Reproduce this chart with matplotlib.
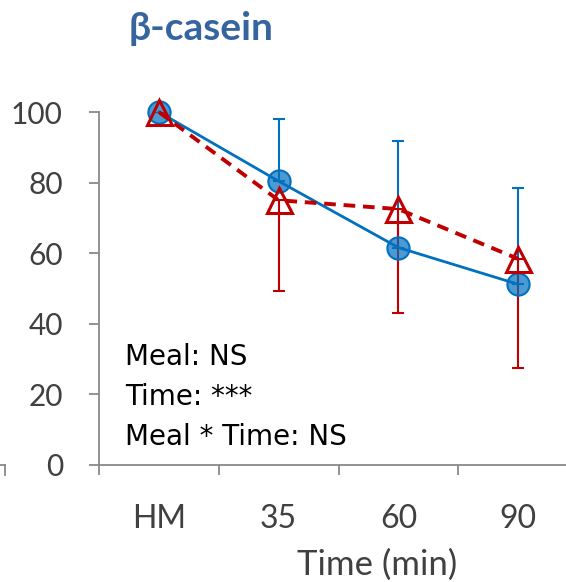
import matplotlib
matplotlib.use("Agg")
import matplotlib.pyplot as plt
from matplotlib.lines import Line2D
import numpy as np

# data
times = ["HM", "35", "60", "90"]
hm_meal = [100, 80.4, 61.6, 51.2]      # blue circles, solid
hm_err_up = [0, 17.6, 30.3, 27.4]
other_meal = [100, 75.0, 72.5, 58.4]   # red triangles, dashed
other_err_dn = [0, 25.7, 29.4, 30.8]
stats_lines = ["Meal: NS", "Time: ***", "Meal * Time: NS"]

blue = "#0070C0"
red = "#C00000"
grey = "#898989"
txt = "#404040"
fam = ["Lato", "DejaVu Sans"]

fig = plt.figure(figsize=(5.66, 5.82), dpi=100)
ax = fig.add_axes([99/566, 117/582, 479/566, 353/582])

x = np.arange(len(times))

# error bars (one-sided)
ax.errorbar(x, hm_meal, yerr=[np.zeros(4), hm_err_up], fmt="none",
            ecolor=blue, elinewidth=1.5, capsize=4.5, capthick=1.5, zorder=2)
ax.errorbar(x, other_meal, yerr=[other_err_dn, np.zeros(4)], fmt="none",
            ecolor=red, elinewidth=1.5, capsize=4.5, capthick=1.5, zorder=2)

ax.plot(x, hm_meal, color=blue, lw=2, marker="o", ms=16,
        mfc=(0, 0.44, 0.75, 0.7), mec=blue, mew=1.5, zorder=3, clip_on=False)
ax.plot(x, other_meal, color=red, lw=2.8, ls=(0, (3, 2)), marker="^", ms=18,
        mfc="none", mec=red, mew=2.2, zorder=4, clip_on=False)

ax.set_xlim(-0.5, 3.5)
ax.set_ylim(0, 100)
ax.set_yticks([0, 20, 40, 60, 80, 100])
ax.set_xticks(x)
ax.set_xticklabels(times)
ax.set_xticks(np.arange(-0.5, 4.0, 1.0), minor=True)

for s in ["top", "right"]:
    ax.spines[s].set_visible(False)
for s in ["left", "bottom"]:
    ax.spines[s].set_color(grey)
    ax.spines[s].set_linewidth(1.3)

ax.tick_params(axis="y", length=7, width=1.3, color=grey, pad=19,
               labelsize=21.5, labelcolor=txt)
ax.tick_params(axis="x", which="major", length=0, pad=28,
               labelsize=23, labelcolor=txt)
ax.tick_params(axis="x", which="minor", length=7, width=1.3, color=grey)
for lab in ax.get_xticklabels() + ax.get_yticklabels():
    lab.set_family(fam)

ax.set_xlabel("Time (min)", fontsize=25, color=txt, family=fam, va="center")
ax.xaxis.set_label_coords(0.58, -0.283)

for i, line in enumerate(stats_lines):
    ax.text(0.054, 0.306 - i * 0.1133, line, transform=ax.transAxes,
            fontsize=20, family="DejaVu Sans", color="black", va="center")

fig.text(201/566, 1 - 28/582, "β-casein", fontsize=28, fontweight="bold",
         color="#35649E", family=fam, ha="center", va="center")

# bit of the neighbouring panel's axis at the left edge
fig.add_artist(Line2D([0, 5/566], [117/582, 117/582], color=grey, lw=1.3))
fig.add_artist(Line2D([5/566, 5/566], [117/582, 107/582], color=grey, lw=1.3))

fig.savefig("out.png", dpi=100)
